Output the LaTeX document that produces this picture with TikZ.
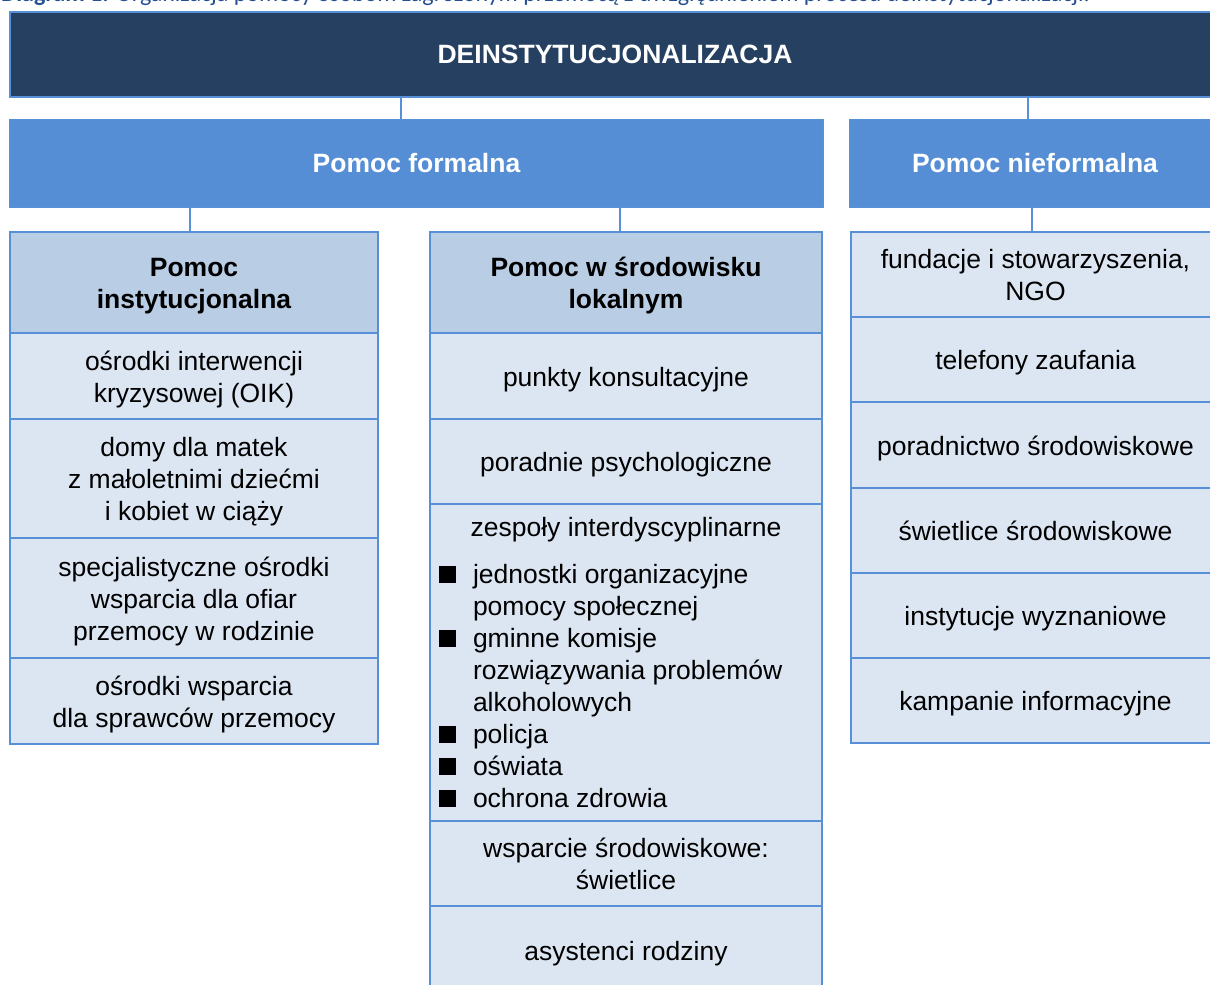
\documentclass[tikz,border=0pt]{standalone}
\usepackage{fontspec}
\setmainfont{Liberation Sans}
\newfontfamily\capfont{Carlito}
\definecolor{navy}{RGB}{38,64,97}
\definecolor{midblue}{RGB}{85,142,213}
\definecolor{lineblue}{RGB}{88,144,216}
\definecolor{hdrfill}{RGB}{185,205,229}
\definecolor{cellfill}{RGB}{220,230,242}
\definecolor{capblue}{RGB}{36,80,145}
\newcommand{\sqbul}{\rule{17pt}{17pt}}
\newcommand{\cc}[1]{\raisebox{-4pt}[\height][\depth]{\begin{tabular}{@{}c@{}}#1\end{tabular}}}
\begin{document}
\begin{tikzpicture}[x=1pt,y=-1pt,
  base/.style={draw=lineblue, line width=2pt, inner sep=0pt, outer sep=0pt, anchor=north west,
    align=center, font=\fontsize{26.5}{32}\selectfont},
  topbox/.style={base, fill=navy, text=white, font=\fontsize{26.5}{32}\selectfont\bfseries},
  lvlbox/.style={base, fill=midblue, text=white, font=\fontsize{26.5}{32}\selectfont\bfseries},
  hdr/.style={base, fill=hdrfill, text=black, font=\fontsize{26.5}{32}\selectfont\bfseries},
  cell/.style={base, fill=cellfill, text=black},
  conn/.style={draw=lineblue, line width=2pt},
  plain/.style={inner sep=0pt, outer sep=0pt, font=\fontsize{26.5}{32}\selectfont, text=black}]
\useasboundingbox (0,0) rectangle (1210,985);

% caption (cut at the top edge)
\node[anchor=base west, inner sep=0pt, text=capblue, font=\capfont\fontsize{24}{28}\selectfont] (cap) at (1,1.5)
  {\textbf{Diagram 1.} Organizacja pomocy osobom zagrożonym przemocą z uwzględnieniem procesu deinstytucjonalizacji.};

% level 0
\node[topbox, minimum width=1210pt, minimum height=85pt] (top) at (10,12) {DEINSTYTUCJONALIZACJA};

% level 1
\node[lvlbox, minimum width=813pt, minimum height=87pt] (form) at (10,120) {Pomoc formalna};
\node[lvlbox, minimum width=370pt, minimum height=87pt] (nform) at (850,120) {Pomoc nieformalna};

% column 1
\node[hdr, minimum width=368pt, minimum height=101pt] (h1) at (10,232) {\cc{Pomoc\\instytucjonalna}};
\node[cell, minimum width=368pt, minimum height=86pt] (a1) at (10,333) {\cc{ośrodki interwencji\\kryzysowej (OIK)}};
\node[cell, minimum width=368pt, minimum height=119pt] (a2) at (10,419) {\cc{domy dla matek\\z małoletnimi dziećmi\\i kobiet w ciąży}};
\node[cell, minimum width=368pt, minimum height=120pt] (a3) at (10,538) {\cc{specjalistyczne ośrodki\\wsparcia dla ofiar\\przemocy w rodzinie}};
\node[cell, minimum width=368pt, minimum height=86pt] (a4) at (10,658) {\cc{ośrodki wsparcia\\dla sprawców przemocy}};

% column 2
\node[hdr, minimum width=392pt, minimum height=101pt] (h2) at (430,232) {\cc{Pomoc w środowisku\\lokalnym}};
\node[cell, minimum width=392pt, minimum height=86pt] (b1) at (430,333) {\cc{punkty konsultacyjne}};
\node[cell, minimum width=392pt, minimum height=85pt] (b2) at (430,419) {\cc{poradnie psychologiczne}};
\node[cell, minimum width=392pt, minimum height=317pt] (b3) at (430,504) {};
\node[cell, minimum width=392pt, minimum height=85pt] (b4) at (430,821) {\cc{wsparcie środowiskowe:\\świetlice}};
\node[cell, minimum width=392pt, minimum height=88pt] (b5) at (430,906) {\cc{asystenci rodziny}};

\node[plain, anchor=base] (b3h) at (626,536) {zespoły interdyscyplinarne};
\node[plain, anchor=north west] (b3l) at (439,561) {%
  \begin{tabular}{@{}l@{\hspace{17pt}}l@{}}
  \sqbul & jednostki organizacyjne\\
         & pomocy społecznej\\
  \sqbul & gminne komisje\\
         & rozwiązywania problemów\\
         & alkoholowych\\
  \sqbul & policja\\
  \sqbul & oświata\\
  \sqbul & ochrona zdrowia
  \end{tabular}};

% column 3
\node[cell, minimum width=369pt, minimum height=85pt] (c1) at (851,232) {\cc{fundacje i stowarzyszenia,\\NGO}};
\node[cell, minimum width=369pt, minimum height=85pt] (c2) at (851,317) {\cc{telefony zaufania}};
\node[cell, minimum width=369pt, minimum height=86pt] (c3) at (851,402) {\cc{poradnictwo środowiskowe}};
\node[cell, minimum width=369pt, minimum height=85pt] (c4) at (851,488) {\cc{świetlice środowiskowe}};
\node[cell, minimum width=369pt, minimum height=85pt] (c5) at (851,573) {\cc{instytucje wyznaniowe}};
\node[cell, minimum width=369pt, minimum height=85pt] (c6) at (851,658) {\cc{kampanie informacyjne}};

% connectors
\coordinate (x1) at (401,0);
\coordinate (x2) at (1028,0);
\coordinate (x3) at (190,0);
\coordinate (x4) at (620,0);
\coordinate (x5) at (1032,0);
\draw[conn] (top.south -| x1) -- (form.north -| x1);
\draw[conn] (top.south -| x2) -- (nform.north -| x2);
\draw[conn] (form.south -| x3) -- (h1.north -| x3);
\draw[conn] (form.south -| x4) -- (h2.north -| x4);
\draw[conn] (nform.south -| x5) -- (c1.north -| x5);
\end{tikzpicture}
\end{document}
